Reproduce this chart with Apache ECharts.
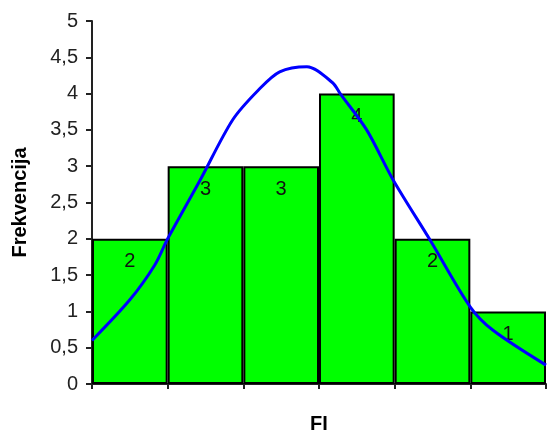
<!DOCTYPE html>
<html><head><meta charset="utf-8">
<script src="https://cdn.jsdelivr.net/npm/echarts@6/dist/echarts.min.js"></script>
<style>html,body{margin:0;padding:0;background:#fff}#c{width:549px;height:434px}</style>
</head><body><div id="c"></div>
<script>
var categories = ['1','2','3','4','5','6'];
var frequencies = [2, 3, 3, 4, 2, 1];
var curveX = [0.0, 0.5, 0.83, 1.0, 1.43, 1.86, 2.2, 2.48, 2.84, 3.18, 3.28, 3.63, 3.98, 4.47, 5.0, 5.3, 6.0];
var curveY = [0.6, 1.16, 1.64, 2.0, 2.81, 3.64, 4.05, 4.30, 4.37, 4.15, 4.0, 3.5, 2.81, 1.98, 1.06, 0.74, 0.26];
var yTicks = [0, 0.5, 1, 1.5, 2, 2.5, 3, 3.5, 4, 4.5, 5];

var chart = echarts.init(document.getElementById('c'), null, {renderer:'canvas'});
var font = 'Liberation Sans';
chart.setOption({
  animation: false,
  grid: {left: 92, top: 21, right: 3, bottom: 50, containLabel: false, outerBoundsMode: 'none'},
  xAxis: [{
    type: 'category', data: categories, boundaryGap: true,
    name: 'FI', nameLocation: 'middle', nameGap: 30,
    nameTextStyle: {fontFamily: font, fontWeight: 'bold', fontSize: 20, color: '#000'},
    axisLine: {lineStyle: {color: '#222', width: 2}},
    axisTick: {show: true, length: 5, alignWithLabel: false, lineStyle: {color: '#222', width: 2}},
    axisLabel: {show: false},
    splitLine: {show: false}
  }, {
    type: 'value', min: 0, max: 6, show: false
  }],
  yAxis: {
    type: 'value', min: 0, max: 5, interval: 0.5,
    name: 'Frekvencija', nameLocation: 'middle', nameGap: 62, nameRotate: 90,
    nameTextStyle: {fontFamily: font, fontWeight: 'bold', fontSize: 20, color: '#000'},
    axisLine: {show: true, lineStyle: {color: '#222', width: 2}},
    axisTick: {show: true, length: 6, lineStyle: {color: '#222', width: 2}},
    axisLabel: {fontFamily: font, fontSize: 20, color: '#222', margin: 14,
      formatter: function(v){ return String(v).replace('.', ','); }},
    splitLine: {show: false}
  },
  series: [{
    type: 'bar', data: frequencies, barWidth: '100%', barGap: '0%',
    itemStyle: {color: '#00FF00', borderColor: '#000', borderWidth: 2},
    label: {show: true, position: 'insideTop', distance: 13, fontFamily: font, fontSize: 20, color: '#111'}
  }, {
    type: 'line', xAxisIndex: 1, smooth: 0.3, symbol: 'none',
    data: curveX.map(function(x, i){ return [x, curveY[i]]; }),
    lineStyle: {color: '#0000FF', width: 3}
  }]
});
</script></body></html>
